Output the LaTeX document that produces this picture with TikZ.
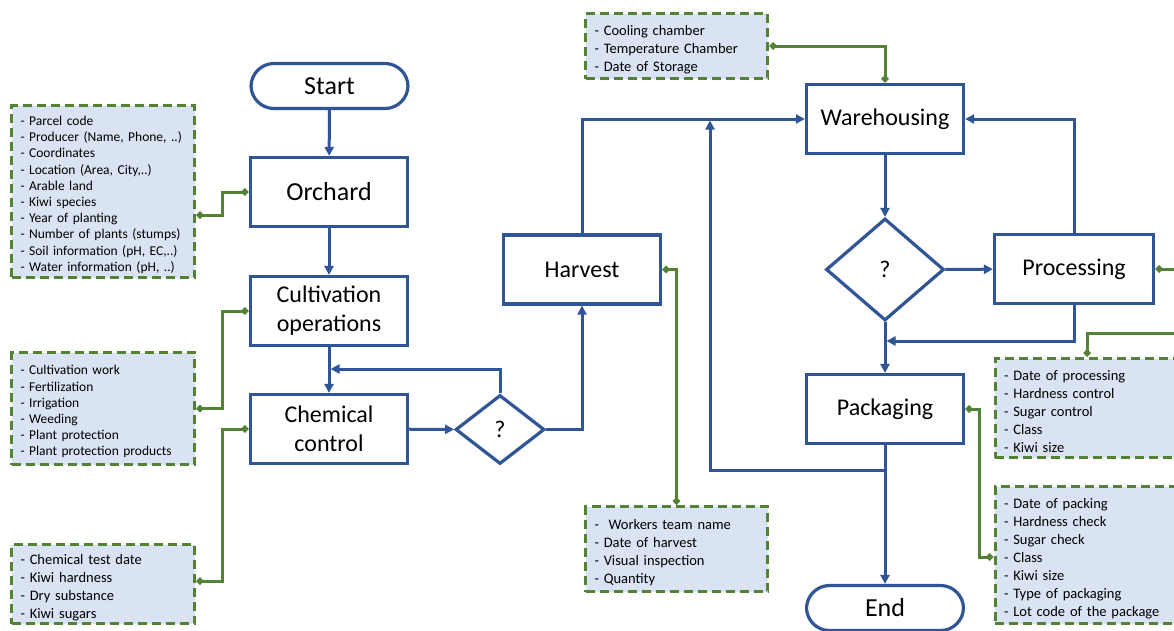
\documentclass[tikz,border=0pt]{standalone}
\usepackage{fontspec}
\setmainfont{Carlito}
\usetikzlibrary{shapes.geometric,arrows.meta}
\definecolor{fblue}{HTML}{2F5597}
\definecolor{fgreen}{HTML}{548235}
\definecolor{ffill}{HTML}{DAE3F3}
\begin{document}
\begin{tikzpicture}[x=1pt,y=-1pt,
  proc/.style={draw=fblue, line width=3.2pt, fill=white, minimum width=157pt, minimum height=69pt, inner sep=2pt, align=center, font=\fontsize{24}{29}\selectfont},
  term/.style={proc, rounded corners=23pt, minimum height=45pt, font=\fontsize{26}{30}\selectfont},
  dec/.style={diamond, draw=fblue, line width=3.2pt, fill=white, inner sep=0pt, font=\fontsize{24}{29}\selectfont},
  info/.style={draw=fgreen, line width=3pt, dash pattern=on 9pt off 5pt, fill=ffill, inner xsep=9pt, inner ysep=0pt, align=left},
  infoA/.style={info, font=\fontsize{13.5}{16.2}\selectfont, execute at begin node={\rule{0pt}{16pt}}},
  infoB/.style={info, font=\fontsize{14.5}{18}\selectfont, execute at begin node={\rule{0pt}{17pt}}},
  flow/.style={draw=fblue, line width=3pt, -{Triangle[length=9pt,width=9pt]}},
  link/.style={draw=fgreen, line width=3pt, {Diamond[length=8pt,width=8pt]}-{Diamond[length=8pt,width=8pt]}}
]
\useasboundingbox (0,0) rectangle (1174,630);
\fill[white] (0,0) rectangle (1174,630);

% main nodes
\node[term] (start) at (329.5,86) {Start};
\node[proc, font=\fontsize{26}{30}\selectfont] (orch) at (329,192) {Orchard};
\node[proc] (cult) at (329,311) {Cultivation\\operations};
\node[proc] (chem) at (329,429) {Chemical\\control};
\node[dec, minimum width=89pt, minimum height=69pt] (d1) at (500,429.5) {?};
\node[proc] (harv) at (582,269.5) {Harvest};
\node[proc] (ware) at (885,119) {Warehousing};
\node[dec, minimum width=118pt, minimum height=102pt] (d2) at (885,269.5) {?};
\node[proc, minimum width=159pt] (proc) at (1074,269) {Processing};
\node[proc] (pack) at (885,409) {Packaging};
\node[term] (endn) at (885,608) {End};

% info boxes
\node[infoA, minimum width=183pt, minimum height=172pt, text width=165pt] (boxA) at (103,191.5) {- Parcel code\\- Producer (Name, Phone, ..)\\- Coordinates\\- Location (Area, City,..)\\- Arable land\\- Kiwi species\\- Year of planting\\- Number of plants (stumps)\\- Soil information (pH, EC,..)\\- Water information (pH, ..)};
\node[infoA, minimum width=183pt, minimum height=112pt, text width=165pt] (boxB) at (103,408.5) {- Cultivation work\\- Fertilization\\- Irrigation\\- Weeding\\- Plant protection\\- Plant protection products};
\node[infoB, minimum width=183pt, minimum height=79pt, text width=165pt] (boxC) at (103,584) {- Chemical test date\\- Kiwi hardness\\- Dry substance\\- Kiwi sugars};
\node[infoB, minimum width=182pt, minimum height=65pt, text width=164pt] (boxD) at (676.5,46) {- Cooling chamber\\- Temperature Chamber\\- Date of Storage};
\node[infoB, minimum width=182pt, minimum height=85pt, text width=164pt] (boxE) at (676.5,549) {- \ Workers team name\\- Date of harvest\\- Visual inspection\\- Quantity};
\node[infoB, minimum width=198pt, minimum height=99pt, text width=180pt] (boxF) at (1094,408) {- Date of processing\\- Hardness control\\- Sugar control\\- Class\\- Kiwi size};
\node[infoB, minimum width=198pt, minimum height=137pt, text width=180pt] (boxG) at (1094,555) {- Date of packing\\- Hardness check\\- Sugar check\\- Class\\- Kiwi size\\- Type of packaging\\- Lot code of the package};

% flow connectors
\coordinate (j1) at (330.5,369);
\coordinate (j2) at (710,120.5);
\coordinate (j3) at (710,470);
\coordinate (j4) at (886.5,341);
\draw[flow] (start) -- (orch);
\draw[flow] (orch) -- (cult);
\draw[flow] (cult) -- (chem);
\draw[flow] (d1.north) |- (j1);
\draw[flow] (chem) -- (d1);
\draw[flow] (d1.east) -| (harv.south);
\draw[flow] (harv.north) |- (ware.west);
\draw[flow] (pack.south) |- (j3) -- (j2);
\draw[flow] (pack) -- (endn);
\draw[flow] (ware) -- (d2);
\draw[flow] (d2) -- (proc);
\draw[flow] (proc.north) |- (ware.east);
\draw[flow] (proc.south) |- (j4);
\draw[flow] (d2) -- (pack);

% info links
\coordinate (o1) at (1195,269);
\coordinate (o2) at (1195,333);
\draw[link] ([yshift=-23.5pt]boxA.east) -- ++(26,0) |- (orch.west);
\draw[link] (boxB.east) -- ++(26,0) |- (cult.west);
\draw[link] ([yshift=3pt]boxC.east) -- ++(26,0) |- (chem.west);
\draw[link] (ware.north) |- (boxD.east);
\draw[link] (harv.east) -| (boxE.north);
\draw[link] (proc.east) -- (o1);
\draw[link] ([xshift=-7pt]boxF.north) |- (o2);
\draw[link] (pack.east) -- ++(14,0) |- ([yshift=-2pt]boxG.west);
\end{tikzpicture}
\end{document}
